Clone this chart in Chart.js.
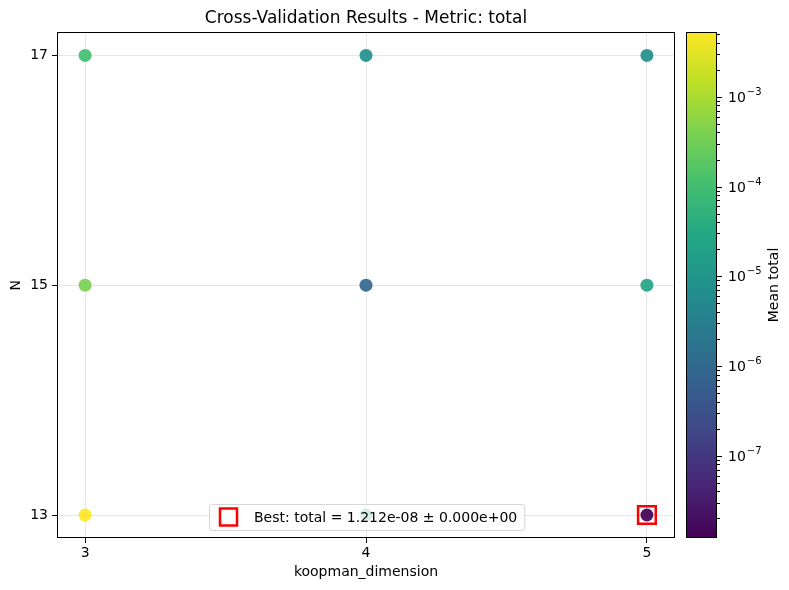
<!DOCTYPE html>
<html>
<head>
<meta charset="utf-8">
<script src="https://cdn.jsdelivr.net/npm/chart.js@4.4.1/dist/chart.umd.min.js"></script>
<style>
  body { margin: 0; background: #fff; }
  #wrap { position: relative; width: 789px; height: 590px; }
  #wrap canvas { position: absolute; left: 0; top: 0; }
</style>
</head>
<body>
<div id="wrap">
  <canvas id="plot" width="789" height="590"></canvas>
  <canvas id="cbar" width="789" height="590"></canvas>
</div>
<script>
// grid of CV runs
const koopmanDims = [3, 4, 5, 3, 4, 5, 3, 4, 5];
const nValues = [17, 17, 17, 15, 15, 15, 13, 13, 13];
const meanTotal = [1.0e-4, 8.0e-6, 7.5e-6, 3.9e-4, 9.5e-7, 2.5e-5, 5.27e-3, 1.5e-5, 1.212e-8];
const xTicks = [3, 4, 5];
const yTicks = [13, 15, 17];
const bestX = 5;
const bestY = 13;
const bestMean = 1.212e-8;
const bestStd = 0;

const viridis = ['#440154', '#482475', '#414487', '#355f8d', '#2a788e', '#21918c',
  '#22a884', '#44bf70', '#7ad151', '#bddf26', '#fde725'];

const vmin = Math.min(...meanTotal);
const vmax = Math.max(...meanTotal);
const norm = (v) => (Math.log10(v) - Math.log10(vmin)) / (Math.log10(vmax) - Math.log10(vmin));

const hexRgb = (h) => [1, 3, 5].map((i) => parseInt(h.slice(i, i + 2), 16));
function cmap(t, alpha) {
  t = Math.max(0, Math.min(1, t));
  const p = t * 10;
  const i = Math.min(9, Math.floor(p));
  const f = p - i;
  const a = hexRgb(viridis[i]), b = hexRgb(viridis[i + 1]);
  const c = a.map((x, k) => Math.round(x + (b[k] - x) * f));
  return `rgba(${c[0]}, ${c[1]}, ${c[2]}, ${alpha})`;
}

// matplotlib style exponent: 1.212e-08
const fmtExp = (v) => v.toExponential(3).replace(/e([+-])(\d)$/, 'e$10$2');

const isMajor = (v) => Math.abs(Math.log10(v) - Math.round(Math.log10(v))) < 1e-9;

Chart.defaults.font.family = "'DejaVu Sans', sans-serif";
Chart.defaults.font.size = 14;
Chart.defaults.color = '#000';

// full box around the axes
const framePlugin = {
  id: 'frame',
  afterDraw(chart) {
    const { ctx, chartArea: a } = chart;
    ctx.save();
    ctx.strokeStyle = '#000';
    ctx.lineWidth = 1;
    ctx.strokeRect(Math.round(a.left) + 0.5, Math.round(a.top) + 0.5,
      Math.round(a.right - a.left) - 1, Math.round(a.bottom - a.top) - 1);
    ctx.restore();
  },
};

// centre the title over the plot area like matplotlib
const titlePlugin = {
  id: 'titleCenter',
  afterLayout(chart) {
    if (chart.titleBlock) {
      chart.titleBlock.left = chart.chartArea.left;
      chart.titleBlock.right = chart.chartArea.right;
    }
  },
};

// legend box inside the axes, lower center
const bestLegend = {
  id: 'bestLegend',
  afterDatasetsDraw(chart) {
    const ds = chart.data.datasets[1];
    const { ctx, chartArea: a } = chart;
    ctx.save();
    ctx.font = "14px 'DejaVu Sans'";
    const tw = ctx.measureText(ds.label).width;
    const h = 26;
    const w = 45 + tw + 7;
    const x = Math.round((a.left + a.right) / 2 - w / 2) + 1;
    const y = Math.round(a.bottom - 8 - h);
    ctx.beginPath();
    ctx.roundRect(x + 0.5, y + 0.5, w, h, 3);
    ctx.fillStyle = 'rgba(255,255,255,0.8)';
    ctx.fill();
    ctx.strokeStyle = 'rgba(204,204,204,0.8)';
    ctx.lineWidth = 1;
    ctx.stroke();
    ctx.strokeStyle = ds.borderColor;
    ctx.lineWidth = 2.5;
    ctx.strokeRect(x + 11, y + 4.5, 17, 17);
    ctx.fillStyle = '#000';
    ctx.textBaseline = 'middle';
    ctx.fillText(ds.label, x + 45, y + h / 2 + 1);
    ctx.restore();
  },
};

new Chart(document.getElementById('plot'), {
  type: 'scatter',
  data: {
    datasets: [
      {
        label: 'CV',
        data: koopmanDims.map((x, i) => ({ x: x, y: nValues[i] })),
        backgroundColor: meanTotal.map((v) => cmap(norm(v), 0.92)),
        borderWidth: 0,
        pointRadius: 6.5,
        pointHoverRadius: 6.5,
      },
      {
        label: `Best: total = ${fmtExp(bestMean)} \u00b1 ${fmtExp(bestStd)}`,
        data: [{ x: bestX, y: bestY }],
        pointStyle: 'rect',
        pointRadius: 12.5,
        pointHoverRadius: 12.5,
        borderColor: '#ff0000',
        borderWidth: 2.5,
        backgroundColor: 'rgba(0,0,0,0)',
      },
    ],
  },
  options: {
    responsive: false,
    animation: false,
    layout: { padding: { right: 114, left: 0 } },
    plugins: {
      legend: { display: false },
      tooltip: { enabled: false },
      title: {
        display: true,
        text: 'Cross-Validation Results - Metric: total',
        font: { size: 17, weight: 'normal' },
        padding: { top: 8, bottom: 4 },
      },
    },
    scales: {
      x: {
        type: 'linear',
        min: 2.9,
        max: 5.1,
        afterBuildTicks: (s) => { s.ticks = xTicks.map((v) => ({ value: v })); },
        afterFit: (s) => { s.height = 52; },
        grid: { color: '#e6e6e6', tickColor: '#000', tickLength: 5 },
        border: { display: false },
        ticks: { padding: 2 },
        title: { display: true, text: 'koopman_dimension', padding: { top: 0, bottom: 9 } },
      },
      y: {
        type: 'linear',
        min: 12.8,
        max: 17.2,
        afterBuildTicks: (s) => { s.ticks = yTicks.map((v) => ({ value: v })); },
        afterFit: (s) => { s.width = 57; },
        grid: { color: '#e6e6e6', tickColor: '#000', tickLength: 5 },
        border: { display: false },
        ticks: { padding: 4 },
        title: { display: true, text: 'N', padding: { top: 8, bottom: 0 } },
      },
    },
  },
  plugins: [titlePlugin, bestLegend, framePlugin],
});

// colorbar
const cbarPlugin = {
  id: 'cbarFill',
  afterDraw(chart) {
    const { ctx, chartArea: a } = chart;
    const s = chart.scales.y;
    ctx.save();
    const g = ctx.createLinearGradient(0, a.bottom, 0, a.top);
    viridis.forEach((c, i) => g.addColorStop(i / 10, c));
    ctx.fillStyle = g;
    ctx.fillRect(a.left, a.top, a.right - a.left, a.bottom - a.top);
    ctx.strokeStyle = '#000';
    ctx.lineWidth = 1;
    ctx.strokeRect(Math.round(a.left) + 0.5, Math.round(a.top) + 0.5,
      Math.round(a.right - a.left) - 1, Math.round(a.bottom - a.top) - 1);
    ctx.fillStyle = '#000';
    ctx.textBaseline = 'middle';
    s.ticks.forEach((t) => {
      const y = Math.round(s.getPixelForValue(t.value)) + 0.5;
      const major = isMajor(t.value);
      ctx.beginPath();
      ctx.moveTo(a.right, y);
      ctx.lineTo(a.right + (major ? 5 : 3), y);
      ctx.stroke();
      if (major) {
        // mathtext-like 10^e label
        const e = Math.round(Math.log10(t.value));
        ctx.font = "14px 'DejaVu Sans'";
        ctx.fillText('10', a.right + 11, y + 1);
        const w = ctx.measureText('10').width;
        ctx.font = "10px 'DejaVu Sans'";
        ctx.fillText((e < 0 ? '\u2212' : '') + Math.abs(e), a.right + 11 + w + 1, y - 5);
      }
    });
    ctx.translate(a.right + 57, (a.top + a.bottom) / 2);
    ctx.rotate(-Math.PI / 2);
    ctx.font = "14px 'DejaVu Sans'";
    ctx.textAlign = 'center';
    ctx.fillText('Mean total', 0, 0);
    ctx.restore();
  },
};

new Chart(document.getElementById('cbar'), {
  type: 'scatter',
  data: { datasets: [] },
  options: {
    responsive: false,
    animation: false,
    layout: { padding: { left: 686, top: 32, bottom: 52, right: 0 } },
    plugins: { legend: { display: false }, tooltip: { enabled: false } },
    scales: {
      x: { display: false },
      y: {
        type: 'logarithmic',
        position: 'right',
        min: vmin,
        max: vmax,
        afterBuildTicks: (s) => {
          const ticks = [];
          for (let e = -9; e <= -2; e++) {
            for (let m = 1; m <= 9; m++) {
              const v = m * Math.pow(10, e);
              if (v >= vmin && v <= vmax) ticks.push({ value: v });
            }
          }
          s.ticks = ticks;
        },
        afterFit: (s) => { s.width = 72; },
        grid: { drawOnChartArea: false, drawTicks: false },
        border: { display: false },
        ticks: { display: false, autoSkip: false },
      },
    },
  },
  plugins: [cbarPlugin],
});
</script>
</body>
</html>
